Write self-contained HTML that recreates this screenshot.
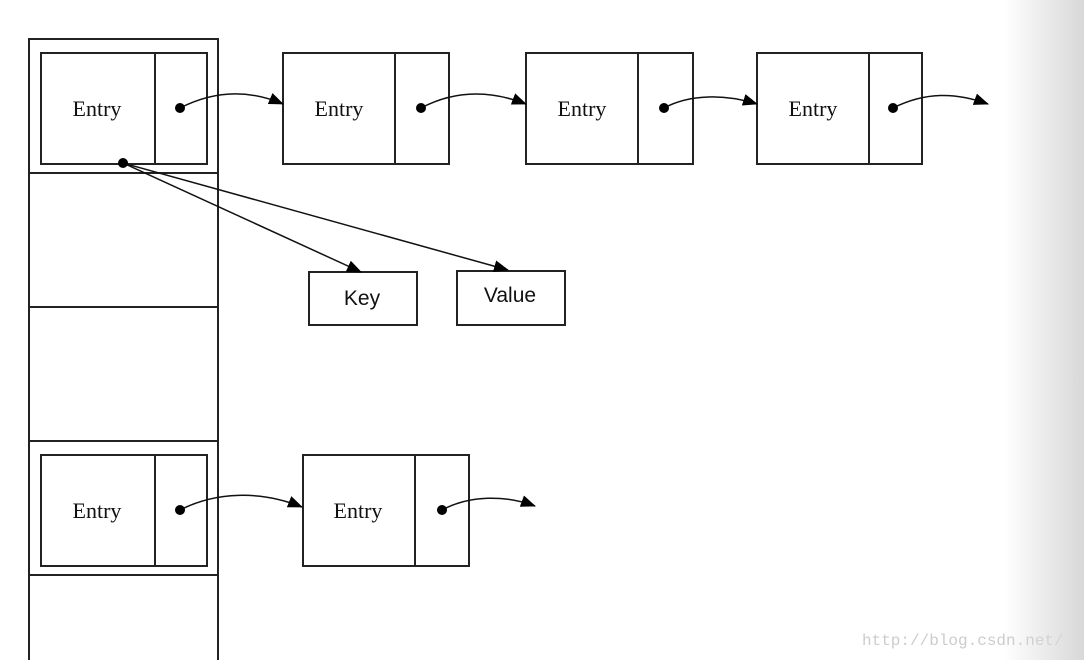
<!DOCTYPE html>
<html><head><style>
body{margin:0;width:1084px;height:660px;overflow:hidden;background:#fff;position:relative}
.g{position:absolute;right:0;top:0;width:80px;height:660px;background:linear-gradient(to right,rgba(220,220,220,0),#d8d8d8)}
</style></head><body>
<svg width="1084" height="660" style="position:absolute;left:0;top:0">
<defs><marker id="a" markerWidth="15" markerHeight="12" refX="14" refY="6" orient="auto" markerUnits="userSpaceOnUse"><path d="M0,0 L15,6 L0,12 Z" fill="#000"/></marker></defs>
<g fill="none" stroke="#222" stroke-width="2">
<rect x="29" y="39" width="189" height="640"/>
<line x1="29" y1="173" x2="218" y2="173"/>
<line x1="29" y1="307" x2="218" y2="307"/>
<line x1="29" y1="441" x2="218" y2="441"/>
<line x1="29" y1="575" x2="218" y2="575"/>
<rect x="41" y="53" width="166" height="111"/><line x1="155" y1="53" x2="155" y2="164"/>
<rect x="283" y="53" width="166" height="111"/><line x1="395" y1="53" x2="395" y2="164"/>
<rect x="526" y="53" width="167" height="111"/><line x1="638" y1="53" x2="638" y2="164"/>
<rect x="757" y="53" width="165" height="111"/><line x1="869" y1="53" x2="869" y2="164"/>
<rect x="41" y="455" width="166" height="111"/><line x1="155" y1="455" x2="155" y2="566"/>
<rect x="303" y="455" width="166" height="111"/><line x1="415" y1="455" x2="415" y2="566"/>
<rect x="309" y="272" width="108" height="53"/>
<rect x="457" y="271" width="108" height="54"/>
</g>
<g fill="none" stroke="#111" stroke-width="1.5" marker-end="url(#a)">
<path d="M180,108 C215,90 250,90 283,104"/>
<path d="M421,108 C455,90 490,90 526,104"/>
<path d="M664,108 C690,94 725,94 757,104"/>
<path d="M893,108 C925,92 955,92 988,104"/>
<path d="M180,510 C215,492 260,490 302,507"/>
<path d="M442,510 C470,495 505,495 535,506"/>
<path d="M123,163 L361,272"/>
<path d="M123,163 L508,270"/>
</g>
<g fill="#000">
<circle cx="180" cy="108" r="5"/><circle cx="421" cy="108" r="5"/><circle cx="664" cy="108" r="5"/><circle cx="893" cy="108" r="5"/>
<circle cx="180" cy="510" r="5"/><circle cx="442" cy="510" r="5"/><circle cx="123" cy="163" r="5"/>
</g>
<g font-family="Liberation Serif, serif" font-size="22" fill="#111" text-anchor="middle">
<text x="97" y="116">Entry</text><text x="339" y="116">Entry</text><text x="582" y="116">Entry</text><text x="813" y="116">Entry</text>
<text x="97" y="518">Entry</text><text x="358" y="518">Entry</text>
</g>
<g font-family="Liberation Sans, sans-serif" font-size="21" fill="#111" text-anchor="middle">
<text x="362" y="305">Key</text><text x="510" y="302">Value</text>
</g>
<text x="862" y="645" font-family="Liberation Mono, monospace" font-size="16" fill="#ccc">http://blog.csdn.net/</text>
</svg>
<div class="g"></div>
</body></html>
